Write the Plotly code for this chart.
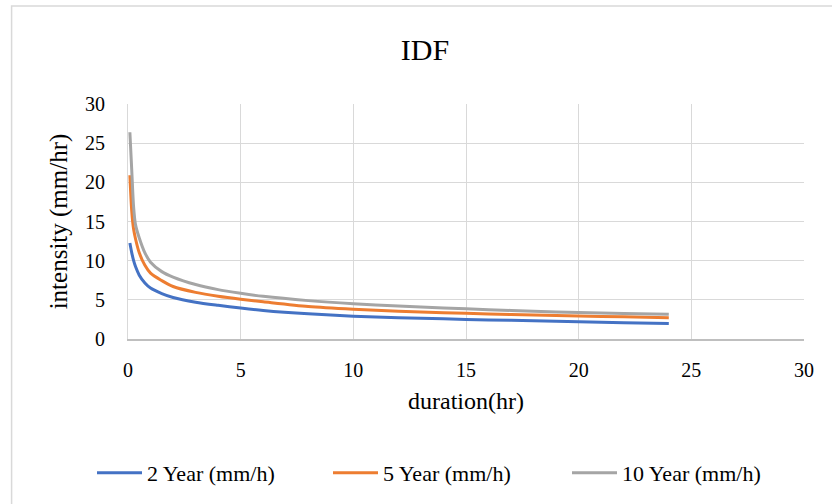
import plotly.graph_objects as go

duration_hr = [0.083, 0.167, 0.25, 0.333, 0.5, 0.75, 1, 1.5, 2, 3, 4, 5, 6, 8, 10, 12, 14, 16, 18, 20, 22, 24]
year2 = [12.25, 11.0, 10.0, 9.25, 8.15, 7.15, 6.5, 5.8, 5.3, 4.7, 4.3, 3.95, 3.65, 3.22, 2.92, 2.72, 2.57, 2.44, 2.32, 2.21, 2.08, 1.97]
year5 = [20.9, 16.3, 14.0, 12.8, 11.0, 9.4, 8.4, 7.45, 6.7, 5.95, 5.45, 5.07, 4.75, 4.15, 3.8, 3.55, 3.35, 3.2, 3.06, 2.94, 2.83, 2.72]
year10 = [26.4, 21.5, 16.8, 14.6, 12.9, 11.0, 9.8, 8.6, 7.9, 6.95, 6.3, 5.84, 5.45, 4.9, 4.5, 4.2, 3.95, 3.75, 3.55, 3.38, 3.25, 3.15]

series_names = ["2 Year (mm/h)", "5 Year (mm/h)", "10 Year (mm/h)"]
series_values = [year2, year5, year10]
colors = ["#4472C4", "#ED7D31", "#A5A5A5"]
legend_ids = ["legend", "legend2", "legend3"]
legend_left_px = [93, 329, 568]

font_family = "Liberation Serif, Times New Roman, serif"

fig = go.Figure()
for name, vals, col, lg in zip(series_names, series_values, colors, legend_ids):
    fig.add_trace(go.Scatter(
        x=duration_hr, y=vals, mode="lines", name=name, legend=lg,
        line=dict(color=col, width=3, shape="spline", smoothing=0.8),
    ))

legend_style = dict(orientation="h", xanchor="left", xref="container",
                    y=1-473/504, yanchor="middle", yref="container",
                    font=dict(size=22, family=font_family), itemwidth=45,
                    bgcolor="rgba(0,0,0,0)")

fig.update_layout(
    width=832, height=504,
    margin=dict(l=127.5, r=28, t=104, b=165),
    paper_bgcolor="white", plot_bgcolor="white",
    font=dict(family=font_family, color="#000000", size=20),
    title=dict(text="IDF", x=425/832, xref="container", xanchor="center",
               y=1-49/504, yref="container", yanchor="middle",
               font=dict(size=30, family=font_family, color="#000000")),
    xaxis=dict(range=[0, 30], dtick=5, showgrid=True, gridcolor="#d9d9d9", gridwidth=1,
               zeroline=False, showline=True, linecolor="#bfbfbf", linewidth=1.5,
               ticks="", tickfont=dict(size=20, family=font_family), ticklabelstandoff=12,
               title=dict(text="duration(hr)", font=dict(size=24, family=font_family), standoff=12)),
    yaxis=dict(range=[0, 30], dtick=5, showgrid=True, gridcolor="#d9d9d9", gridwidth=1,
               zeroline=False, showline=True, linecolor="#d9d9d9", linewidth=1,
               ticks="", tickfont=dict(size=20, family=font_family), ticklabelstandoff=18,
               title=dict(text="intensity (mm/hr)", font=dict(size=25, family=font_family), standoff=10)),
    showlegend=True,
)
for lg, px in zip(legend_ids, legend_left_px):
    fig.update_layout({lg: dict(legend_style, x=(px - 1) / 832)})

fig.add_shape(type="rect", xref="paper", yref="paper",
              x0=(11-127.5)/676.5, x1=1.2, y0=-0.8, y1=(339-6)/235,
              line=dict(color="#d9d9d9", width=1.5), fillcolor="rgba(0,0,0,0)", layer="below")

fig.write_html("out.html", config={"displayModeBar": False},
               post_script="document.body.style.margin='0';")
